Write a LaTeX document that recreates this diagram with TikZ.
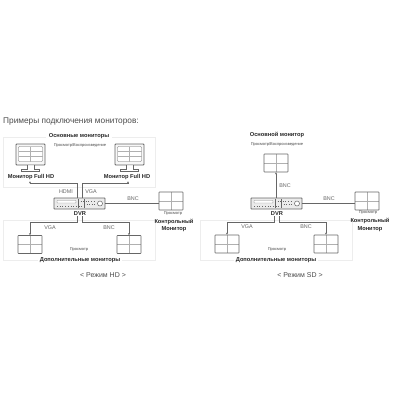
\documentclass[tikz,border=0pt]{standalone}
\usepackage{fontspec}
\setmainfont{Liberation Sans}
\usetikzlibrary{arrows.meta,calc}
\definecolor{ln}{HTML}{666666}
\definecolor{gr}{HTML}{B0B0B0}
\newcommand{\fs}[1]{\fontsize{#1}{#1}\selectfont}
\tikzset{
 x=1pt,y=-1pt,
 lbl/.style={inner sep=0pt,font=\fs{5.7}\bfseries,text=black!85,align=center},
 tiny/.style={inner sep=0pt,font=\fs{4},text=black!70},
 conn/.style={inner sep=0pt,font=\fs{5.4},text=black!60},
 panel/.style={draw=black!7,line width=.5pt,minimum width=152pt,minimum height=40pt,inner sep=0pt},
 wire/.style={draw=ln,line width=.6pt},
 awire/.style={wire,-{Stealth[length=2pt,width=2pt]}},
 grid/.style={draw=ln,line width=.7pt,rounded corners=.5pt,fill=white,inner sep=0pt,minimum width=24pt,minimum height=18pt,
  path picture={
   \draw[gr,line width=.45pt] (path picture bounding box.north) -- (path picture bounding box.south)
    (path picture bounding box.west) -- (path picture bounding box.east);
  }},
 fhd/.style={draw=ln,line width=.8pt,rounded corners=.8pt,fill=black!3,inner sep=0pt,minimum width=29pt,minimum height=21pt,
  path picture={
   \coordinate (nw) at (path picture bounding box.north west);
   \draw[ln,line width=.4pt,fill=white] ($(nw)+(2.5,2.5)$) rectangle ($(nw)+(26.5,17.5)$);
   \draw[gr,line width=.45pt] ($(nw)+(14.5,2.5)$) -- ($(nw)+(14.5,17.5)$)
     ($(nw)+(2.5,7.5)$) -- ($(nw)+(26.5,7.5)$) ($(nw)+(2.5,12.5)$) -- ($(nw)+(26.5,12.5)$);
  }},
 dvr/.style={draw=ln,line width=.8pt,rounded corners=.5pt,fill=black!8,inner sep=0pt,minimum width=51pt,minimum height=11pt,
  path picture={
   \coordinate (nw) at (path picture bounding box.north west);
   \draw[ln!70,line width=.4pt,fill=white] ($(nw)+(3,2.5)$) rectangle ($(nw)+(22,5)$);
   \draw[ln,line width=.7pt,dotted] ($(nw)+(3,8)$) -- ($(nw)+(30,8)$);
   \draw[ln,line width=.6pt,dotted] ($(nw)+(24,3)$) -- ($(nw)+(42,3)$) ($(nw)+(30,6)$) -- ($(nw)+(42,6)$);
   \draw[ln,line width=.5pt] ($(nw)+(24,1)$) -- ($(nw)+(24,10)$) ($(nw)+(30,1)$) -- ($(nw)+(30,10)$);
   \draw[ln,line width=.5pt,fill=white] ($(nw)+(46,5.5)$) circle (2.5);
  }},
 standp/.style={draw=ln,line width=.6pt,fill=white}
}
\begin{document}
\begin{tikzpicture}
\useasboundingbox (0,0) rectangle (400,400);
\fill[white] (0,0) rectangle (400,400);
\node[anchor=west,inner sep=0pt,font=\fs{8.3},text=black!70] (title) at (3,122) {Примеры подключения мониторов:};
% ---- HD panel
\node[panel,minimum height=50pt] (mainA) at (79,162) {};
\node[panel] (addA) at (79,240) {};
\node[lbl,fill=white,inner xsep=3pt,inner ysep=1pt] (mainAt) at (79,135.6) {Основные мониторы};
\node[tiny] (subA) at (80,145) {Просмотр/Воспроизведение};
\node[fhd] (fa) at (30.5,154.5) {};
\node[fhd] (fb) at (129.5,154.5) {};
\foreach \m in {fa,fb}{
 \draw[standp] ($(\m.south)+(-3.5,0)$) -- ($(\m.south)+(-3.5,3.5)$) -- ($(\m.south)+(-9,3.5)$) -- ($(\m.south)+(-9,6)$) -- ($(\m.south)+(9,6)$) -- ($(\m.south)+(9,3.5)$) -- ($(\m.south)+(3.5,3.5)$) -- ($(\m.south)+(3.5,0)$);
}
\node[lbl] (la) at (31,177) {Монитор Full HD};
\node[lbl] (lb) at (127,177) {Монитор Full HD};
\node[dvr] (dA) at (79.5,203.5) {};
\node[lbl] (dAt) at (80,214) {DVR};
\node[grid] (cA) at (171,201) {};
\node[tiny] (cAs) at (173,214) {Просмотр};
\node[lbl] (cAt) at (174,225.5) {Контрольный\\[1.4pt]Монитор};
\node[grid] (a1) at (30,244.5) {};
\node[grid] (a2) at (129,244.5) {};
\node[tiny] (pA) at (79,250) {Просмотр};
\node[lbl,fill=white,inner xsep=2pt,inner ysep=1pt] (addAt) at (80,260) {Дополнительные мониторы};
\node[inner sep=0pt,font=\fs{7},text=black!70] (mA) at (103,275) {< Режим HD >};
\node[conn] at (66,192) {HDMI};
\node[conn] at (91,192) {VGA};
\node[conn] at (133,199) {BNC};
\node[conn] at (50,228) {VGA};
\node[conn] at (109,228) {BNC};
\coordinate (hA) at ($(la.south)+(-1,3)$);
\coordinate (hB) at ($(lb.south)+(1,3)$);
\draw[awire] ($(dA.north)+(-2.5,0)$) |- (hA) -- ($(la.south)+(-1,1.5)$);
\draw[awire] ($(dA.north)+(2.5,0)$) |- (hB) -- ($(lb.south)+(1,1.5)$);
\draw[wire] (dA.east) -- (dA.east -| cA.west);
\draw[awire] ($(dAt.south)+(-2.5,0)$) -- ++(0,6.5) -| (a1.north);
\draw[awire] ($(dAt.south)+(2.5,0)$) -- ++(0,6.5) -| (a2.north);
% ---- SD panel
\node[panel] (addB) at (276.5,240) {};
\node[lbl] (mainBt) at (277,135) {Основной монитор};
\node[tiny] (subB) at (277,144) {Просмотр/Воспроизведение};
\node[grid] (mB) at (276,163) {};
\node[dvr] (dB) at (276.5,203.5) {};
\node[lbl] (dBt) at (277,214) {DVR};
\node[grid] (cB) at (367,201) {};
\node[tiny] (cBs) at (368,213) {Просмотр};
\node[lbl] (cBt) at (370,225) {Контрольный\\[1.4pt]Монитор};
\node[grid] (b1) at (227,244) {};
\node[grid] (b2) at (326,244) {};
\node[tiny] (pB) at (277,250) {Просмотр};
\node[lbl,fill=white,inner xsep=2pt,inner ysep=1pt] (addBt) at (276,260) {Дополнительные мониторы};
\node[inner sep=0pt,font=\fs{7},text=black!70] (mB2) at (300,275) {< Режим SD >};
\node[conn] at (285,186) {BNC};
\node[conn] at (329,199) {BNC};
\node[conn] at (247,227) {VGA};
\node[conn] at (306,227) {BNC};
\draw[awire] (dB.north -| mB.south) -- (mB.south);
\draw[wire] (dB.east) -- (dB.east -| cB.west);
\draw[awire] ($(dBt.south)+(-2.5,0)$) -- ++(0,6.5) -| (b1.north);
\draw[awire] ($(dBt.south)+(2.5,0)$) -- ++(0,6.5) -| (b2.north);
\end{tikzpicture}
\end{document}
